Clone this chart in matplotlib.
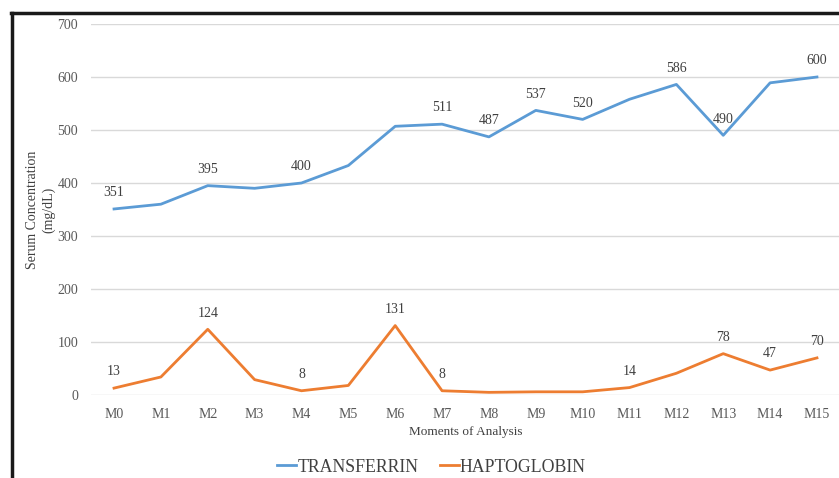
import matplotlib
matplotlib.use("Agg")
import matplotlib.pyplot as plt
from matplotlib.lines import Line2D

categories = ["M0", "M1", "M2", "M3", "M4", "M5", "M6", "M7", "M8", "M9",
              "M10", "M11", "M12", "M13", "M14", "M15"]
transferrin = [351, 360, 395, 390, 400, 433, 507, 511, 487, 537, 520, 558, 586, 490, 589, 600]
haptoglobin = [13, 34, 124, 29, 8, 18, 131, 8, 5, 6, 6, 14, 41, 78, 47, 70]
# which points carry a data label
trans_labels = {0: "351", 2: "395", 4: "400", 7: "511", 8: "487", 9: "537",
                10: "520", 12: "586", 13: "490", 15: "600"}
hapto_labels = {0: "13", 2: "124", 4: "8", 6: "131", 7: "8", 11: "14",
                13: "78", 14: "47", 15: "70"}
yticks = [0, 100, 200, 300, 400, 500, 600, 700]

plt.rcParams['font.family'] = ['Liberation Serif', 'DejaVu Serif']
W, H = 839, 478
fig = plt.figure(figsize=(W / 100, H / 100), dpi=100)

ax = fig.add_axes([90.6 / W, 83 / H, (840.4 - 90.6) / W, (395 - 24) / H])
blue = "#5B9BD5"
orange = "#ED7D31"
x = list(range(len(categories)))
ax.plot(x, transferrin, color=blue, lw=2.0, solid_joinstyle='round')
ax.plot(x, haptoglobin, color=orange, lw=2.0, solid_joinstyle='round')

for i, t in trans_labels.items():
    ax.annotate(t, (i, transferrin[i]), xytext=(0, 7), textcoords='offset points',
                ha='center', va='bottom', fontsize=10, color='#404040')
for i, t in hapto_labels.items():
    ax.annotate(t, (i, haptoglobin[i]), xytext=(0, 7), textcoords='offset points',
                ha='center', va='bottom', fontsize=10, color='#404040')

ax.set_xlim(-0.5, len(categories) - 0.5)
ax.set_ylim(0, 700)
ax.set_yticks(yticks)
ax.set_xticks(x)
ax.set_xticklabels(categories)
ax.grid(axis='y', color='#d9d9d9', lw=1.0)
ax.set_axisbelow(True)
for s in ax.spines.values():
    s.set_visible(False)
ax.tick_params(axis='both', length=0, labelsize=10, colors='#595959')
ax.tick_params(axis='y', pad=9)
ax.tick_params(axis='x', pad=9)
ax.set_xlabel("Moments of Analysis", fontsize=9.5, color='#404040', labelpad=4)
ax.set_ylabel("Serum Concentration\n(mg/dL)", fontsize=10, color='#404040',
              labelpad=1.5, linespacing=1.25)

handles = [Line2D([], [], color=blue, lw=2), Line2D([], [], color=orange, lw=2)]
fig.legend(handles, ["TRANSFERRIN", "HAPTOGLOBIN"], loc='center',
           bbox_to_anchor=(431.5 / W, 1 - 467 / H), ncol=2, frameon=False,
           fontsize=12.8, handlelength=1.07, handletextpad=0.05, columnspacing=1.2,
           labelcolor='#404040')

# black frame (top and left edges visible in the crop)
fig.add_artist(Line2D([11 / W, 1.0], [1 - 13 / H, 1 - 13 / H], color='#1a1a1a', lw=2.5,
                      transform=fig.transFigure))
fig.add_artist(Line2D([12 / W, 12 / W], [1 - 13 / H, 0], color='#1a1a1a', lw=2.5,
                      transform=fig.transFigure))

fig.savefig("out.png", dpi=100)
